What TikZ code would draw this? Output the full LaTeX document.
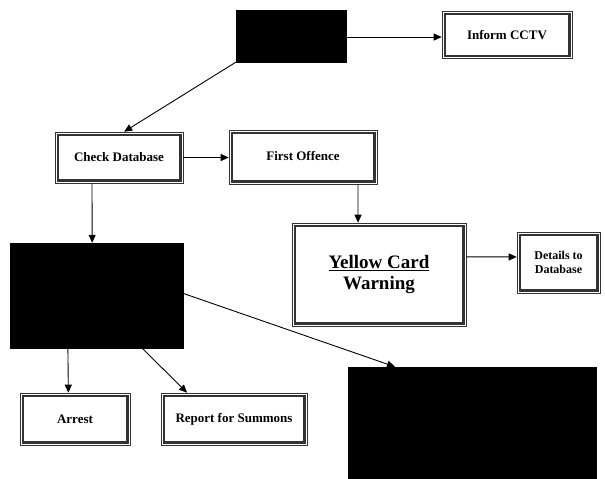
\documentclass[tikz,border=0pt]{standalone}
\usepackage{fontspec}
\setmainfont{Liberation Serif}
\usetikzlibrary{arrows.meta,calc}
\begin{document}
\begin{tikzpicture}[x=1pt,y=-1pt,
  box/.style={draw=black!80, line width=0.6pt, fill=white, inner sep=0pt, align=center,
    font=\bfseries,
    path picture={\draw[line width=2.4pt]
      ([shift={(2.7pt,-2.7pt)}]path picture bounding box.north west) rectangle
      ([shift={(-2.7pt,2.7pt)}]path picture bounding box.south east);}},
  blk/.style={fill=black, draw=black, inner sep=0pt},
  arr/.style={line width=0.9pt, -{Triangle[length=8pt,width=7pt]}}]
\useasboundingbox (0,0) rectangle (605,479);
% black boxes
\node[blk, minimum width=110pt, minimum height=52pt] (top) at (291,36) {};
\node[blk, minimum width=173pt, minimum height=105pt] (mid) at (96.5,295.5) {};
\node[blk, minimum width=248pt, minimum height=112pt] (br) at (472,423) {};
% framed boxes
\node[box, minimum width=130pt, minimum height=47pt, font=\bfseries\fontsize{13}{15}\selectfont] (cctv) at (507,35) {Inform CCTV};
\node[box, minimum width=128pt, minimum height=51pt, font=\bfseries\fontsize{13}{15}\selectfont] (cdb) at (119,157.5) {Check Database};
\node[box, minimum width=148pt, minimum height=54pt, font=\bfseries\fontsize{13}{15}\selectfont] (fo) at (303,157) {\raisebox{2pt}{First Offence}};
\node[box, minimum width=174pt, minimum height=103pt, font=\bfseries\fontsize{19}{21}\selectfont] (yc) at (379,274.5) {\underline{Yellow Card}\\Warning};
\node[box, minimum width=83pt, minimum height=61pt, font=\bfseries\fontsize{12}{14}\selectfont] (dtd) at (558.5,262.5) {Details to\\Database};
\node[box, minimum width=110pt, minimum height=52pt, font=\bfseries\fontsize{13}{15}\selectfont] (arrest) at (75,419) {Arrest};
\node[box, minimum width=146pt, minimum height=52pt, font=\bfseries\fontsize{13}{15}\selectfont] (rfs) at (234,419) {Report for Summons};
% connectors
\coordinate (t1) at ($(top.north east)!0.52!(top.south east)$);
\draw[arr] (t1) -- (t1 -| cctv.west);
\draw[arr] (top.south west) -- ($(cdb.north west)!0.54!(cdb.north east)$);
\draw[arr] (cdb.east) -- (cdb.east -| fo.west);
\draw[arr] ($(cdb.south west)!0.29!(cdb.south east)$) -- ($(mid.north west)!0.475!(mid.north east)$);
\draw[arr] ($(fo.south west)!0.87!(fo.south east)$) -- ($(yc.north west)!0.38!(yc.north east)$);
\draw[arr] ($(yc.north east)!0.33!(yc.south east)$) -- ($(dtd.north west)!0.41!(dtd.south west)$);
\draw[arr] ($(mid.north east)!0.48!(mid.south east)$) -- ($(br.north west)!0.19!(br.north east)$);
\draw[arr] ($(mid.south west)!0.335!(mid.south east)$) -- ($(arrest.north west)!0.44!(arrest.north east)$);
\draw[arr] ($(mid.south west)!0.763!(mid.south east)$) -- ($(rfs.north west)!0.18!(rfs.north east)$);
\end{tikzpicture}
\end{document}
